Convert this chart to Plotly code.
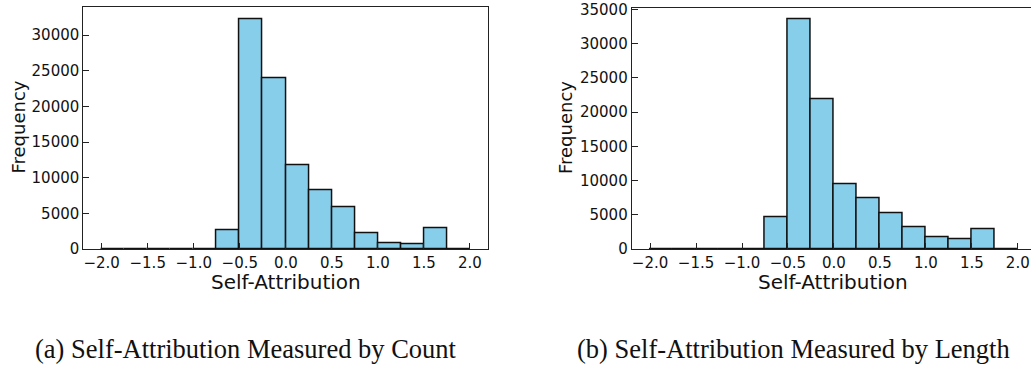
import plotly.graph_objects as go

# ---- data ----
bin_edges = [-2.0, -1.75, -1.5, -1.25, -1.0, -0.75, -0.5, -0.25, 0.0,
             0.25, 0.5, 0.75, 1.0, 1.25, 1.5, 1.75, 2.0]
count_freq = [0, 0, 0, 0, 0, 2680, 32250, 23900, 11770, 8250, 5860, 2200, 750, 610, 2910, 0]
length_freq = [0, 0, 0, 0, 0, 4630, 33500, 21830, 9500, 7450, 5170, 3220, 1760, 1370, 2830, 0]
x_ticks = [-2.0, -1.5, -1.0, -0.5, 0.0, 0.5, 1.0, 1.5, 2.0]
x_tick_labels = ["\u22122.0", "\u22121.5", "\u22121.0", "\u22120.5", "0.0", "0.5", "1.0", "1.5", "2.0"]
y_ticks_a = [0, 5000, 10000, 15000, 20000, 25000, 30000]
y_ticks_b = [0, 5000, 10000, 15000, 20000, 25000, 30000, 35000]
x_title = "Self-Attribution"
y_title = "Frequency"
caption_a = "(a) Self-Attribution Measured by Count"
caption_b = "(b) Self-Attribution Measured by Length"

W, H = 1031, 368
centers = [(bin_edges[i] + bin_edges[i + 1]) / 2 for i in range(len(bin_edges) - 1)]
widths = [bin_edges[i + 1] - bin_edges[i] for i in range(len(bin_edges) - 1)]

BAR = "#87CEEB"
EDGE = "#111111"
FRAME = "#222222"
TICKFONT = dict(family="DejaVu Sans", size=15, color="#111111")

fig = go.Figure()
fig.add_trace(go.Bar(x=centers, y=count_freq, width=widths, marker=dict(color=BAR, line=dict(color=EDGE, width=1.5)),
                     xaxis="x", yaxis="y", showlegend=False, hoverinfo="skip"))
fig.add_trace(go.Bar(x=centers, y=length_freq, width=widths, marker=dict(color=BAR, line=dict(color=EDGE, width=1.5)),
                     xaxis="x2", yaxis="y2", showlegend=False, hoverinfo="skip"))

def px_x(p):
    return p / W

def px_y(p):
    return 1 - p / H

common_x = dict(tickmode="array", tickvals=x_ticks, ticktext=x_tick_labels, ticks="inside", ticklen=6,
                tickwidth=1, tickcolor=FRAME, showline=True, linecolor=FRAME, linewidth=1,
                showgrid=False, zeroline=False, tickfont=TICKFONT, automargin=False)
common_y = dict(ticks="inside", ticklen=6, tickwidth=1, tickcolor=FRAME, showline=True, linecolor=FRAME,
                linewidth=1, showgrid=False, zeroline=False, tickfont=TICKFONT, tickformat="d",
                automargin=False)

fig.update_layout(
    width=W, height=H,
    margin=dict(l=0, r=0, t=0, b=0, autoexpand=False),
    paper_bgcolor="white", plot_bgcolor="white",
    bargap=0,
    xaxis=dict(domain=[px_x(83.3), px_x(488.3)], range=[-2.2, 2.2], anchor="y", mirror=True, **common_x),
    yaxis=dict(domain=[px_y(249), px_y(7.3)], range=[0, 33900], anchor="x", mirror=True,
               tickvals=y_ticks_a, **common_y),
    xaxis2=dict(domain=[px_x(631.7), 1.0], range=[-2.2, 2.144], anchor="y2", mirror=True, **common_x),
    yaxis2=dict(domain=[px_y(249), px_y(8.3)], range=[0, 35150], anchor="x2", mirror=False,
                tickvals=y_ticks_b, **common_y),
)

ann_font = dict(family="DejaVu Sans", size=20, color="#111111")
yt_font = dict(family="DejaVu Sans", size=18, color="#111111")
cap_font = dict(family="Liberation Serif", size=26.5, color="#111111")
annotations = [
    dict(text=x_title, x=px_x(285.8), y=px_y(282), xref="paper", yref="paper", showarrow=False,
         xanchor="center", yanchor="middle", font=ann_font),
    dict(text=x_title, x=px_x(833), y=px_y(282), xref="paper", yref="paper", showarrow=False,
         xanchor="center", yanchor="middle", font=ann_font),
    dict(text=y_title, x=px_x(18.5), y=px_y(127), xref="paper", yref="paper", showarrow=False,
         xanchor="center", yanchor="middle", textangle=-90, font=yt_font),
    dict(text=y_title, x=px_x(565), y=px_y(128), xref="paper", yref="paper", showarrow=False,
         xanchor="center", yanchor="middle", textangle=-90, font=yt_font),
    dict(text=caption_a, x=px_x(33), y=px_y(349), xref="paper", yref="paper", showarrow=False,
         xanchor="left", yanchor="middle", font=cap_font),
    dict(text=caption_b, x=px_x(575), y=px_y(349), xref="paper", yref="paper", showarrow=False,
         xanchor="left", yanchor="middle", font=cap_font),
]
fig.update_layout(annotations=annotations)

fig.write_html("out.html", config={"displayModeBar": False},
               post_script="document.body.style.margin='0';document.body.style.overflow='hidden';")
